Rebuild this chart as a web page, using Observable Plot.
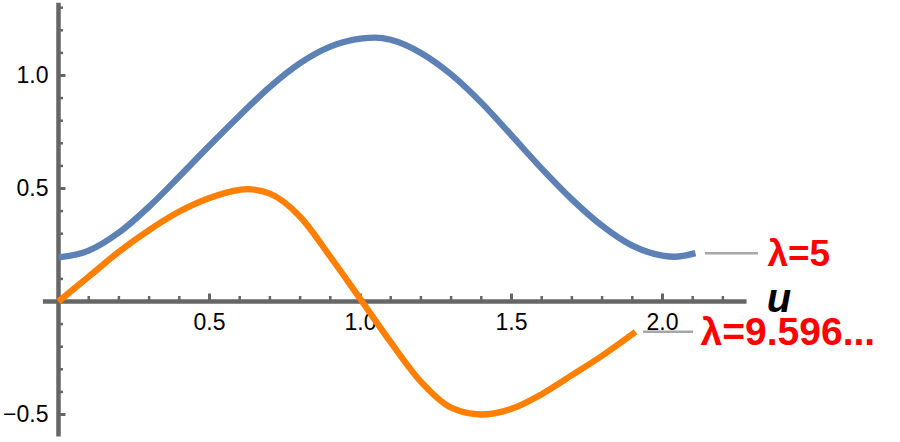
<!DOCTYPE html>
<html><head><meta charset="utf-8">
<script src="https://cdn.jsdelivr.net/npm/d3@7"></script>
<script src="https://cdn.jsdelivr.net/npm/@observablehq/plot@0.6"></script>
<style>html,body{margin:0;padding:0;background:#fff} svg{display:block}</style>
</head><body><div id="chart"></div>
<script>
// λ = 5 curve (blue)
const uBlue = [0, 0.1, 0.2, 0.3, 0.4, 0.5, 0.6, 0.7, 0.8, 0.9, 1.0, 1.05, 1.1, 1.2, 1.3, 1.4, 1.5, 1.6, 1.7, 1.8, 1.9, 2.0, 2.04, 2.109];
const yBlue = [0.195, 0.225, 0.305, 0.42, 0.553, 0.69, 0.823, 0.95, 1.055, 1.128, 1.163, 1.168, 1.158, 1.10, 1.005, 0.88, 0.735, 0.588, 0.452, 0.335, 0.247, 0.203, 0.198, 0.214];
// λ = 9.596... curve (orange)
const uOrange = [0, 0.1, 0.2, 0.3, 0.4, 0.5, 0.6, 0.625, 0.7, 0.8, 0.9, 1.0, 1.1, 1.2, 1.3, 1.4, 1.5, 1.6, 1.7, 1.8, 1.911];
const yOrange = [0, 0.11, 0.22, 0.316, 0.398, 0.458, 0.494, 0.497, 0.477, 0.375, 0.198, 0.01, -0.18, -0.355, -0.47, -0.5, -0.475, -0.41, -0.326, -0.24, -0.134];
const seriesLabels = ["λ=5", "λ=9.596..."];
const axisLabel = "u";
const xMajor = [0.5, 1.0, 1.5, 2.0];
const xTickLabels = ["0.5", "1.0", "1.5", "2.0"];
const xMinor = [0.1, 0.2, 0.3, 0.4, 0.6, 0.7, 0.8, 0.9, 1.1, 1.2, 1.3, 1.4, 1.6, 1.7, 1.8, 1.9, 2.1, 2.2];
const yMajor = [-0.5, 0.5, 1.0];
const yTickLabels = ["\u22120.5", "0.5", "1.0"];
const yMinor = [-0.4, -0.3, -0.2, -0.1, 0.1, 0.2, 0.3, 0.4, 0.6, 0.7, 0.8, 0.9, 1.1, 1.2, 1.3];
const xExtent = [-0.05, 2.28];
const yExtent = [-0.6, 1.32];

const blueRows = uBlue.map((u, i) => ({u, y: yBlue[i]}));
const orangeRows = uOrange.map((u, i) => ({u, y: yOrange[i]}));
const blueEnd = [blueRows[blueRows.length - 1]];
const orangeEnd = [orangeRows[orangeRows.length - 1]];

const axisColor = "#666666";
const zero = () => 0;

const chart = Plot.plot({
  width: 900,
  height: 442,
  margin: 0,
  style: {fontFamily: "'Liberation Sans', Arial, sans-serif", background: "white"},
  x: {domain: [0, 2], range: [58, 662], axis: null},
  y: {domain: [0, 1], range: [301, 75], axis: null},
  marks: [
    Plot.ruleY([0], {x1: xExtent[0], x2: xExtent[1], stroke: axisColor, strokeWidth: 4.5}),
    Plot.ruleX([0], {y1: yExtent[0], y2: yExtent[1], stroke: axisColor, strokeWidth: 4.5}),
    Plot.ruleX(xMajor, {x: d => d, y1: zero, y2: zero, insetTop: -7.5, stroke: axisColor, strokeWidth: 3}),
    Plot.ruleX(xMinor, {x: d => d, y1: zero, y2: zero, insetTop: -5, stroke: axisColor, strokeWidth: 2.5}),
    Plot.ruleY(yMajor, {y: d => d, x1: zero, x2: zero, insetRight: -7.5, stroke: axisColor, strokeWidth: 3}),
    Plot.ruleY(yMinor, {y: d => d, x1: zero, x2: zero, insetRight: -5, stroke: axisColor, strokeWidth: 2.5}),
    Plot.text(xMajor, {x: d => d, y: zero, text: (d, i) => xTickLabels[i], dy: 21, fontSize: 23, fill: "black"}),
    Plot.text(yMajor, {x: zero, y: d => d, text: (d, i) => yTickLabels[i], dx: -10, textAnchor: "end", fontSize: 23, fill: "black"}),
    Plot.line(blueRows, {x: "u", y: "y", stroke: "#5E81B5", strokeWidth: 6.3, curve: "monotone-x", strokeLinecap: "butt"}),
    Plot.line(orangeRows, {x: "u", y: "y", stroke: "#FF8000", strokeWidth: 6.3, curve: "monotone-x", strokeLinecap: "butt"}),
    Plot.ruleY(blueEnd, {y: "y", x1: "u", x2: "u", insetLeft: 10, insetRight: -63, stroke: "#a6a6a6", strokeWidth: 2.5}),
    Plot.ruleY(orangeEnd, {y: "y", x1: "u", x2: "u", insetLeft: 8, insetRight: -58, stroke: "#a6a6a6", strokeWidth: 2.5}),
    Plot.text(blueEnd, {x: "u", y: "y", text: () => seriesLabels[0], dx: 72, dy: 1.5, textAnchor: "start", fontSize: 37, fontWeight: "bold", fill: "#FF0000"}),
    Plot.text(orangeEnd, {x: "u", y: "y", text: () => seriesLabels[1], dx: 65, dy: 1, textAnchor: "start", fontSize: 39, fontWeight: "bold", fill: "#FF0000"}),
    Plot.text([axisLabel], {x: xExtent[1], y: zero, text: d => d, dx: 32, dy: -2, textAnchor: "middle", fontSize: 40, fontWeight: "bold", fontStyle: "italic", fill: "black"})
  ]
});
document.getElementById("chart").appendChild(chart);
</script>
</body></html>
